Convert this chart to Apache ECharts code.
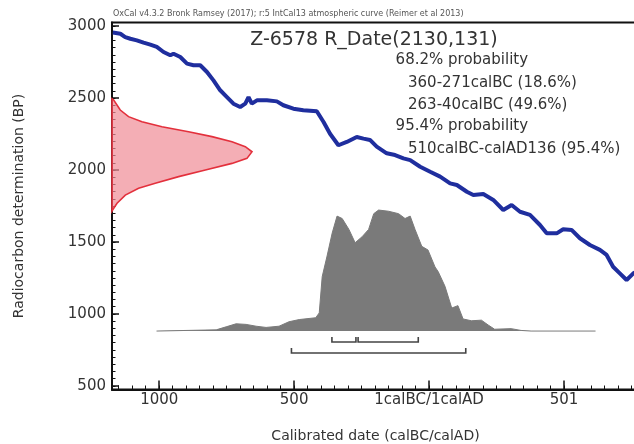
<!DOCTYPE html>
<html>
<head>
<meta charset="utf-8">
<script src="https://cdn.jsdelivr.net/npm/echarts/dist/echarts.min.js"></script>
<style>
html,body{margin:0;padding:0;background:#fff;}
#chart{width:634px;height:444px;}
</style>
</head>
<body>
<div id="chart"></div>
<script>
// ---------- data ----------
const headerText = 'OxCal v4.3.2 Bronk Ramsey (2017); r:5 IntCal13 atmospheric curve (Reimer et al 2013)';
const titleText = 'Z-6578 R_Date(2130,131)';
const infoLines = ['68.2% probability', '360-271calBC (18.6%)', '263-40calBC (49.6%)', '95.4% probability', '510calBC-calAD136 (95.4%)'];

const xTickValues = [-1000, -500, 0, 500];
const xTickLabels = ['1000', '500', '1calBC/1calAD', '501'];
const yTickValues = [500, 1000, 1500, 2000, 2500, 3000];

// calibration curve (calendar year, BP)
const curveYear = [-1172,-1169,-1144,-1126,-1107,-1083,-1058,-1033,-1009,-984,-959,-947,-922,-897,-873,-848,-823,-799,-774,-749,-725,-700,-681,-669,-657,-638,-601,-564,-540,-503,-466,-416,-391,-367,-336,-305,-268,-243,-219,-194,-157,-126,-95,-70,-33,4,41,78,103,140,164,201,238,275,306,337,374,411,436,473,497,529,559,596,633,658,682,707,732,757,775];
const curveBP = [2955,2947,2947,2924,2912,2901,2885,2871,2855,2820,2797,2808,2785,2739,2728,2728,2681,2623,2554,2507,2461,2438,2461,2507,2461,2484,2484,2477,2450,2426,2415,2408,2334,2252,2172,2195,2229,2218,2209,2162,2116,2104,2081,2069,2023,1988,1954,1907,1896,1849,1826,1833,1792,1722,1757,1710,1688,1618,1560,1560,1588,1583,1526,1479,1445,1410,1328,1282,1236,1282,1300];

// radiocarbon measurement distribution (BP, relative probability)
const measBP = [2495,2487,2417,2371,2336,2301,2266,2232,2197,2162,2127,2081,2046,2000,1954,1908,1873,1826,1769,1722,1715];
const measProb = [0,0.011,0.059,0.118,0.214,0.357,0.547,0.714,0.857,0.952,1.0,0.964,0.857,0.667,0.476,0.309,0.19,0.095,0.036,0.004,0];

// calibrated distribution (calendar year, relative probability)
const calYear = [-1010,-789,-752,-715,-678,-641,-604,-556,-519,-481,-420,-407,-396,-378,-359,-341,-322,-297,-274,-248,-224,-205,-187,-150,-113,-89,-70,-52,-27,-4,22,34,59,84,107,126,157,194,219,243,304,341,378,617];
const calProb = [0,0.01,0.035,0.06,0.055,0.04,0.03,0.04,0.077,0.095,0.11,0.15,0.45,0.62,0.81,0.95,0.93,0.84,0.73,0.78,0.84,0.97,1.0,0.99,0.97,0.93,0.95,0.84,0.70,0.67,0.53,0.49,0.37,0.19,0.21,0.10,0.085,0.09,0.05,0.015,0.02,0.005,0,0];

// calibrated ranges
const range68 = [[-360, -271], [-263, -40]];
const range95 = [[-510, 136]];

// ---------- chart ----------
const FONT = 'DejaVu Sans';
const TXT = '#333';
const X_MIN = -1175, X_MAX = 778, Y_MIN = 475, Y_MAX = 3025;

const minorX = [];
for (let v = -1150; v <= 750; v += 50) minorX.push(v);
const minorY = [];
for (let v = 500; v <= 3000; v += 50) minorY.push(v);

const curveData = curveYear.map((y, i) => [y, curveBP[i]]);
const measData = measBP.map((b, i) => [measProb[i], b]);
const calData = calYear.map((y, i) => [y, calProb[i]]);
const rangeData = range68.map(r => [r[0], r[1], 1]).concat(range95.map(r => [r[0], r[1], 2]));

const chart = echarts.init(document.getElementById('chart'), null, {renderer: 'canvas'});

const graphics = [
  {type: 'text', left: 113, top: 10, style: {text: headerText, font: '8px "' + FONT + '"', fill: '#555'}},
  {type: 'text', x: 374, y: 40.5, style: {text: titleText, font: '19px "' + FONT + '"', fill: TXT, align: 'center', verticalAlign: 'middle'}}
];
const lineYs = [60.2, 83, 105, 126.6, 149.4];
infoLines.forEach((t, i) => {
  const indent = t.indexOf('probability') === -1;
  graphics.push({type: 'text', x: indent ? 408 : 395.6, y: lineYs[i],
    style: {text: t, font: '15px "' + FONT + '"', fill: TXT, align: 'left', verticalAlign: 'middle'}});
});

const axisLineStyle = {color: '#111', width: 2};

chart.setOption({
  animation: false,
  backgroundColor: '#fff',
  grid: {left: 112, top: 22.5, width: 527, height: 367, show: true, borderColor: '#111', borderWidth: 2,
    backgroundColor: 'transparent', containLabel: false, outerBoundsMode: 'none'},
  graphic: graphics,
  xAxis: [
    {
      type: 'value', min: X_MIN, max: X_MAX, position: 'bottom', gridIndex: 0,
      axisLine: {show: true, onZero: false, lineStyle: axisLineStyle},
      axisTick: {show: true, inside: true, length: 9, customValues: xTickValues, lineStyle: {color: '#111', width: 1.5}},
      axisLabel: {customValues: xTickValues, margin: 3, fontSize: 15, fontFamily: FONT, color: TXT,
        formatter: v => { const i = xTickValues.indexOf(v); return i >= 0 ? xTickLabels[i] : ''; }},
      splitLine: {show: false},
      name: 'Calibrated date (calBC/calAD)', nameLocation: 'middle', nameGap: 40,
      nameTextStyle: {fontSize: 14, fontFamily: FONT, color: TXT}
    },
    {type: 'value', min: 0, max: 3.764, show: false, gridIndex: 0, axisLine: {onZero: false}},
    {
      type: 'value', min: X_MIN, max: X_MAX, position: 'bottom', gridIndex: 0,
      axisLine: {show: false, onZero: false},
      axisTick: {show: true, inside: true, length: 4, customValues: minorX, lineStyle: {color: '#111', width: 1}},
      axisLabel: {show: false}, splitLine: {show: false}
    }
  ],
  yAxis: [
    {
      type: 'value', min: Y_MIN, max: Y_MAX, position: 'left', gridIndex: 0,
      axisLine: {show: true, onZero: false, lineStyle: axisLineStyle},
      axisTick: {show: true, inside: true, length: 7, customValues: yTickValues, lineStyle: {color: '#111', width: 1.5}},
      axisLabel: {customValues: yTickValues, margin: 6, fontSize: 15, fontFamily: FONT, color: TXT,
        formatter: v => String(v)},
      splitLine: {show: false},
      name: 'Radiocarbon determination (BP)', nameLocation: 'middle', nameGap: 86, nameRotate: 90,
      nameTextStyle: {fontSize: 14, fontFamily: FONT, color: TXT}
    },
    {type: 'value', min: -0.483, max: 2.55, show: false, gridIndex: 0, axisLine: {onZero: false}},
    {
      type: 'value', min: Y_MIN, max: Y_MAX, position: 'left', gridIndex: 0,
      axisLine: {show: false, onZero: false},
      axisTick: {show: true, inside: true, length: 3.5, customValues: minorY, lineStyle: {color: '#111', width: 1}},
      axisLabel: {show: false}, splitLine: {show: false}
    }
  ],
  series: [
    {
      name: 'calibrated', type: 'line', xAxisIndex: 0, yAxisIndex: 1, data: calData,
      showSymbol: false, symbol: 'none', silent: true,
      lineStyle: {color: '#7a7a7a', width: 1},
      areaStyle: {color: '#7a7a7a', opacity: 1}
    },
    {
      name: 'ranges', type: 'custom', xAxisIndex: 0, yAxisIndex: 1, data: rangeData,
      encode: {x: [0, 1], y: 2}, silent: true,
      renderItem: function (params, api) {
        const s = api.coord([api.value(0), 0]);
        const e = api.coord([api.value(1), 0]);
        const y = s[1] + 11 * api.value(2);
        return {type: 'polyline', shape: {points: [[s[0], y - 5], [s[0], y], [e[0], y], [e[0], y - 5]]},
          style: {stroke: '#444', lineWidth: 1.6, fill: null}};
      }
    },
    {
      name: 'measurement', type: 'custom', xAxisIndex: 1, yAxisIndex: 0, data: measData,
      encode: {x: 0, y: 1}, silent: true,
      renderItem: function (params, api) {
        if (params.dataIndex !== 0) return null;
        const pts = measData.map(d => api.coord(d));
        return {type: 'polygon', shape: {points: pts},
          style: {fill: 'rgba(240,140,150,0.7)', stroke: '#e3303c', lineWidth: 1.6}};
      }
    },
    {
      name: 'IntCal13', type: 'line', xAxisIndex: 0, yAxisIndex: 0, data: curveData,
      showSymbol: false, symbol: 'none', silent: true,
      lineStyle: {color: '#1f2e9e', width: 4}
    }
  ]
});
</script>
</body>
</html>
